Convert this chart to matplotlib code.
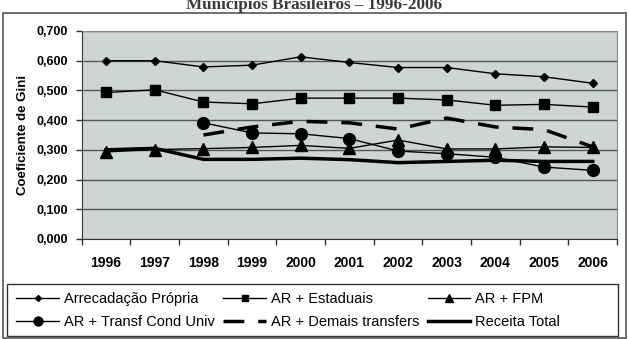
import matplotlib
matplotlib.use("Agg")
import matplotlib.pyplot as plt
import matplotlib.patches as patches
from matplotlib.ticker import FixedLocator, FuncFormatter

plt.rcParams['font.family'] = ['Liberation Sans', 'DejaVu Sans']

anos = ['1996', '1997', '1998', '1999', '2000', '2001', '2002', '2003', '2004', '2005', '2006']
arrecadacao_propria = [0.600, 0.600, 0.579, 0.585, 0.613, 0.594, 0.577, 0.577, 0.556, 0.546, 0.524]
ar_estaduais = [0.493, 0.502, 0.461, 0.455, 0.474, 0.474, 0.474, 0.468, 0.450, 0.453, 0.444]
ar_fpm = [0.293, 0.301, 0.304, 0.308, 0.315, 0.305, 0.333, 0.303, 0.303, 0.310, 0.308]
ar_transf_cond = [None, None, 0.391, 0.357, 0.354, 0.338, 0.296, 0.287, 0.275, 0.242, 0.231]
ar_demais = [None, None, 0.350, 0.377, 0.396, 0.391, 0.370, 0.407, 0.377, 0.368, 0.310]
receita_total = [0.300, 0.305, 0.268, 0.268, 0.272, 0.267, 0.257, 0.261, 0.265, 0.261, 0.261]

x = list(range(len(anos)))

def pares(vals):
    xs = [i for i, v in zip(x, vals) if v is not None]
    ys = [v for v in vals if v is not None]
    return xs, ys

W, H = 629, 339
fig = plt.figure(figsize=(6.29, 3.39), dpi=100)
ax = fig.add_axes([0.130, 0.295, 0.851, 0.6136])
ax.set_facecolor('#cfd4d5')

h1, = ax.plot(*pares(arrecadacao_propria), color='black', lw=1, marker='D', ms=4,
              label='Arrecadação Própria')
h2, = ax.plot(*pares(ar_estaduais), color='black', lw=1, marker='s', ms=6.5,
              label='AR + Estaduais')
h4, = ax.plot(*pares(ar_transf_cond), color='black', lw=1, marker='o', ms=8.5,
              label='AR + Transf Cond Univ')
h5, = ax.plot(*pares(ar_demais), color='black', lw=2.5, ls=(0, (6, 4)),
              label='AR + Demais transfers')
h6, = ax.plot(*pares(receita_total), color='black', lw=2.5, label='Receita Total')
h3, = ax.plot(*pares(ar_fpm), color='black', lw=1, marker='^', ms=8.5,
              label='AR + FPM')

ax.set_xlim(-0.5, 10.5)
ax.set_ylim(0, 0.7)
ax.set_xticks(x)
ax.set_xticklabels(anos, fontsize=10, fontweight='bold')
ax.xaxis.set_minor_locator(FixedLocator([i + 0.5 for i in range(-1, 11)]))
ax.tick_params(axis='x', which='major', length=0, pad=12)
ax.tick_params(axis='x', which='minor', length=4, width=1, color='#333333')
ax.set_yticks([0.1 * i for i in range(8)])
ax.yaxis.set_major_formatter(FuncFormatter(lambda v, p: f'{v:.3f}'.replace('.', ',')))
ax.tick_params(axis='y', length=4, width=1, color='#333333', labelsize=9, pad=6)
for t in ax.get_yticklabels():
    t.set_fontweight('bold')
ax.grid(axis='y', color='#555555', lw=1)
ax.set_axisbelow(True)
for s in ['top', 'right']:
    ax.spines[s].set_color('#888888')
for s in ['left', 'bottom']:
    ax.spines[s].set_color('#333333')
ax.set_ylabel('Coeficiente de Gini', fontsize=9.5, fontweight='bold', labelpad=5)

# legenda sem moldura + caixa desenhada à parte (a caixa do original é mais larga)
handles = [h1, h4, h2, h5, h3, h6]
leg = fig.legend(handles=handles, labels=[h.get_label() for h in handles], ncol=3,
                 loc='center left', bbox_to_anchor=(4 / W, 1 - 310.5 / H), fontsize=10.5,
                 frameon=False, handlelength=2.9, handletextpad=0.35, columnspacing=0.6,
                 labelspacing=0.62, borderpad=0.35, markerscale=0.75)

fig.patches.append(patches.Rectangle((7 / W, 1 - 336 / H), 611 / W, 52 / H,
                                     transform=fig.transFigure, fill=False,
                                     edgecolor='#333333', lw=1))
fig.patches.append(patches.Rectangle((0.004, 0.003), 0.991, 0.96, transform=fig.transFigure,
                                     fill=False, edgecolor='#555555', lw=1.2))

fig.text(0.5, 1 - 9 / H, 'Municípios Brasileiros – 1996-2006', ha='center', va='baseline',
         fontsize=12.3, fontweight='bold', color='#3a3a3a', family='Liberation Serif')

fig.savefig('out.png', dpi=100)
